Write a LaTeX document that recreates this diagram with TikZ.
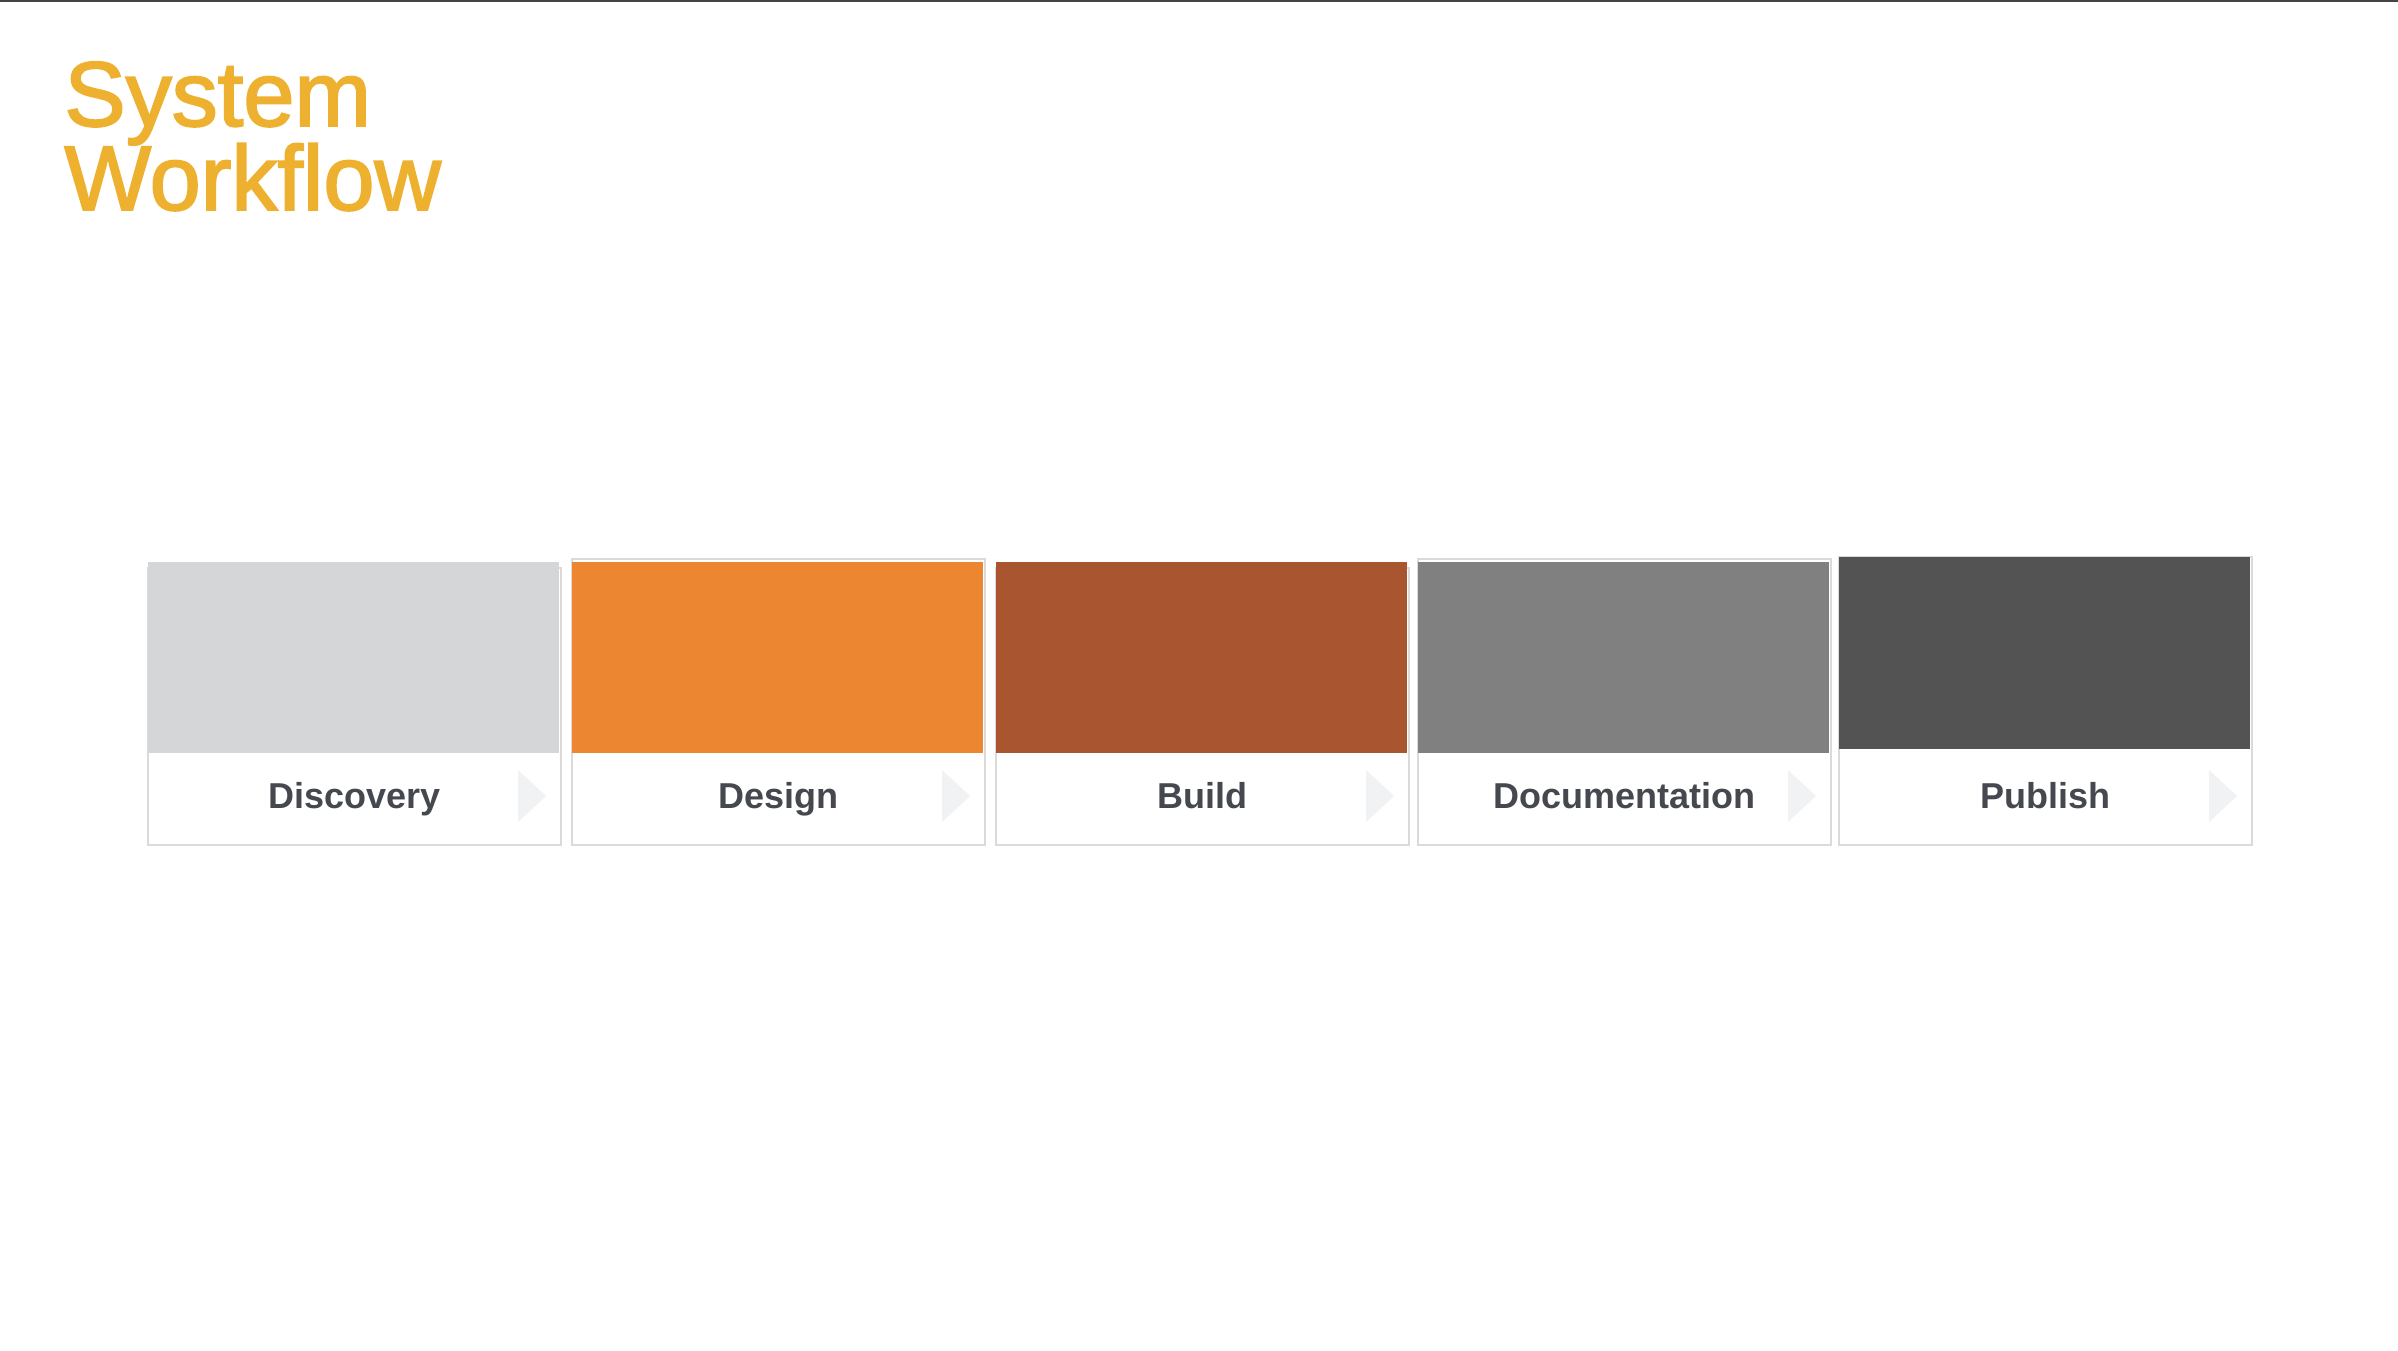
\documentclass[tikz,border=0pt]{standalone}
\usepackage{fontspec}
\setmainfont{Liberation Sans}
\newfontfamily\titlefont{Liberation Sans}[FakeBold=2]
\definecolor{titlecol}{HTML}{EEB12F}
\definecolor{labelcol}{HTML}{45494F}
\definecolor{bordercol}{HTML}{DADADA}
\definecolor{tricol}{HTML}{F1F2F4}
\definecolor{topcol}{HTML}{444444}
\definecolor{c1}{HTML}{D5D6D8}
\definecolor{c2}{HTML}{ED8630}
\definecolor{c3}{HTML}{A95630}
\definecolor{c4}{HTML}{808080}
\definecolor{c5}{HTML}{535353}
\tikzset{
  titletext/.style={anchor=base west, inner sep=0pt, text=titlecol, font=\titlefont\fontsize{46}{52}\selectfont},
  cardborder/.style={draw=bordercol, line width=1pt, fill=white},
  cardlabel/.style={anchor=base, inner sep=0pt, text=labelcol, font=\fontsize{18}{21}\selectfont\bfseries},
  cardarrow/.style={fill=tricol},
}
\begin{document}
\begin{tikzpicture}[x=0.5pt,y=-0.5pt]
\useasboundingbox (0,0) rectangle (2398,1350);
\fill[white] (0,0) rectangle (2398,1350);
\draw[topcol, line width=1pt] (0,1) -- (2398,1) coordinate (topend);
\node[titletext] (title1) at (64,126) {System};
\node[titletext] (title2) at (64,210) {Workflow};
\foreach \i/\l/\bt/\ft/\fb/\c/\txt in {
  1/148/568/562/753/c1/Discovery,
  2/572/559/562/753/c2/Design,
  3/996/568/562/753/c3/Build,
  4/1418/559/562/753/c4/Documentation,
  5/1839/557/557/749/c5/Publish}{
  \draw[cardborder] (\l,\bt) rectangle ({\l+413},845);
  \fill[\c] (\l,\ft) rectangle ({\l+411},\fb);
  \fill[cardarrow] ({\l+370},770) -- ({\l+398},796) -- ({\l+370},822) -- cycle;
  \node[cardlabel] (card\i) at ({\l+206.5},808) {\txt};
}
\end{tikzpicture}
\end{document}
